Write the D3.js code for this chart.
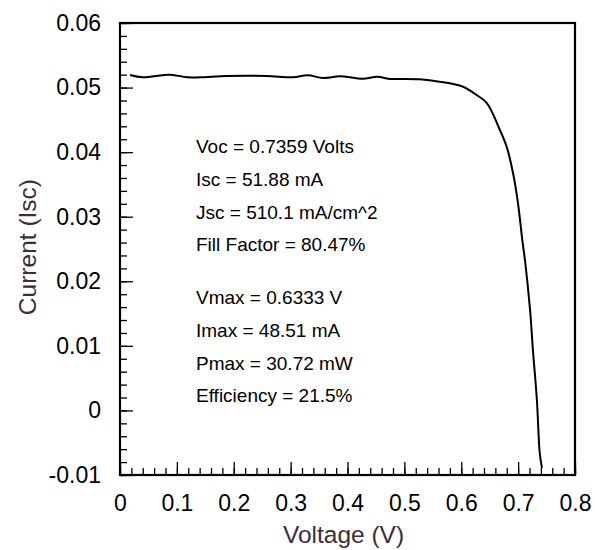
<!DOCTYPE html>
<meta charset="utf-8">
<script src="https://d3js.org/d3.v7.min.js"></script>
<style>
  body { margin: 0; background: #fff; }
  text { font-family: "Liberation Sans", Arial, sans-serif; }
</style>
<body>
<div id="chart"></div>
<script>

// I-V curve
const voltage = [0.0176, 0.040, 0.088, 0.118, 0.141, 0.188, 0.258, 0.304, 0.330, 0.357,
                 0.387, 0.427, 0.452, 0.475, 0.492, 0.527, 0.562, 0.603, 0.627, 0.645,
                 0.668, 0.680, 0.691, 0.699, 0.708, 0.712, 0.721, 0.726, 0.733, 0.738, 0.742];
const current = [0.05195, 0.05159, 0.05199, 0.05159, 0.05159, 0.05179, 0.05179, 0.05159, 0.05190, 0.05148,
                 0.05175, 0.05137, 0.05168, 0.05133, 0.05133, 0.05128, 0.05091, 0.05013, 0.04885, 0.04761,
                 0.04343, 0.04080, 0.03677, 0.03259, 0.02593, 0.02330, 0.01555, 0.00936, 0.00161, -0.00659, -0.00892];

const xTicks = [0, 0.1, 0.2, 0.3, 0.4, 0.5, 0.6, 0.7, 0.8];
const yTicks = [-0.01, 0, 0.01, 0.02, 0.03, 0.04, 0.05, 0.06];

const notes = ["Voc = 0.7359 Volts", "Isc = 51.88 mA", "Jsc = 510.1 mA/cm^2", "Fill Factor = 80.47%",
               "Vmax = 0.6333 V", "Imax = 48.51 mA", "Pmax = 30.72 mW", "Efficiency = 21.5%"];
// current level (data units) of each note's baseline
const noteY = [0.03982, 0.03476, 0.02960, 0.02470, 0.01643, 0.01142, 0.00626, 0.00135];

const margin = {top: 23, right: 20, bottom: 75, left: 120},
    width = 595 - margin.left - margin.right,
    height = 550 - margin.top - margin.bottom;

const svg = d3.select("#chart")
  .append("svg")
    .attr("width", 595)
    .attr("height", 550)
  .append("g")
    .attr("transform", `translate(${margin.left},${margin.top})`);

const x = d3.scaleLinear().domain([0, 0.8]).range([0, width]);
const y = d3.scaleLinear().domain([-0.01, 0.06]).range([height, 0]);

const fmt = d => d === 0 ? "0" : d3.format(".2~f")(d).replace("\u2212", "-");

// minor ticks
svg.append("g")
  .attr("transform", `translate(0,${height})`)
  .call(d3.axisBottom(x).tickValues(d3.range(0, 81, 2).map(d => d / 100)).tickSize(-7).tickFormat(""))
  .call(g => g.select(".domain").remove())
  .selectAll("line").attr("stroke-width", 1.3);
svg.append("g")
  .call(d3.axisLeft(y).tickValues(d3.range(-10, 61, 2).map(d => d / 1000)).tickSize(-7).tickFormat(""))
  .call(g => g.select(".domain").remove())
  .selectAll("line").attr("stroke-width", 1.3);

// major ticks + labels
svg.append("g")
  .attr("transform", `translate(0,${height})`)
  .call(d3.axisBottom(x).tickValues(xTicks).tickSize(-13).tickPadding(20).tickFormat(fmt))
  .call(g => g.select(".domain").remove())
  .call(g => g.selectAll("line").attr("stroke-width", 1.3))
  .call(g => g.selectAll("text").attr("font-size", 23).attr("fill", "#000")
    .attr("font-family", "Liberation Sans, Arial, sans-serif"));

svg.append("g")
  .call(d3.axisLeft(y).tickValues(yTicks).tickSize(-13).tickPadding(19).tickFormat(fmt))
  .call(g => g.select(".domain").remove())
  .call(g => g.selectAll("line").attr("stroke-width", 1.3))
  .call(g => g.selectAll("text").attr("font-size", 23).attr("fill", "#000")
    .attr("font-family", "Liberation Sans, Arial, sans-serif"));

// frame
svg.append("rect")
  .attr("width", width)
  .attr("height", height)
  .attr("fill", "none")
  .attr("stroke", "#000")
  .attr("stroke-width", 2.2);

// curve
svg.append("path")
  .datum(d3.zip(voltage, current))
  .attr("fill", "none")
  .attr("stroke", "#000")
  .attr("stroke-width", 2)
  .attr("d", d3.line().x(d => x(d[0])).y(d => y(d[1])).curve(d3.curveCatmullRom.alpha(0.5)));

// annotations
svg.selectAll(".note")
  .data(notes)
  .join("text")
    .attr("class", "note")
    .attr("x", 76)
    .attr("y", (d, i) => y(noteY[i]))
    .attr("font-size", 19)
    .attr("fill", "#000")
    .text(d => d);

// axis titles
svg.append("text")
  .attr("x", width / 2 - 4)
  .attr("y", height + 68)
  .attr("text-anchor", "middle")
  .attr("font-size", 24.5)
  .attr("fill", "#3b2d3a")
  .text("Voltage (V)");

svg.append("text")
  .attr("transform", `translate(-84,${y(0.0253)}) rotate(-90)`)
  .attr("text-anchor", "middle")
  .attr("font-size", 24.5)
  .attr("fill", "#3b2d3a")
  .text("Current (Isc)");

</script>
</body>
